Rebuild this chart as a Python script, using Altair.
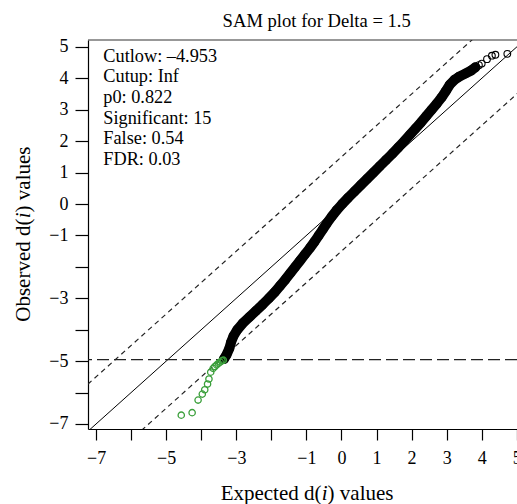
import altair as alt
import pandas as pd

TITLE = "SAM plot for Delta = 1.5"
X_TITLE = ["Expected d(", "i", ") values"]
Y_TITLE = ["Observed d(", "i", ") values"]
STATS = ["Cutlow: \u20134.953", "Cutup: Inf", "p0: 0.822", "Significant: 15",
         "False: 0.54", "FDR: 0.03"]

DELTA = 1.5
CUTLOW = -4.953

# dense cloud of non-significant genes (expected, observed)
band_exp = [-3.35, -3.28, -3.20, -3.15, -3.08, -2.97, -2.82, -2.63, -2.44, -2.25,
            -2.07, -1.90, -1.75, -1.60, -1.46, -1.32, -1.18, -1.04, -0.90, -0.77,
            -0.65, -0.53, -0.41, -0.28, -0.14, 0.02, 0.19, 0.37, 0.55, 0.73,
            0.91, 1.09, 1.27, 1.45, 1.62, 1.79, 1.95, 2.11, 2.27, 2.42,
            2.57, 2.72, 2.86, 2.98, 3.09, 3.22, 3.35, 3.53, 3.70, 3.82]
band_obs = [-4.93, -4.80, -4.60, -4.40, -4.20, -4.00, -3.80, -3.60, -3.40, -3.20,
            -3.00, -2.80, -2.60, -2.40, -2.20, -2.00, -1.80, -1.60, -1.40, -1.20,
            -1.00, -0.80, -0.60, -0.40, -0.20, 0.00, 0.20, 0.40, 0.60, 0.80,
            1.00, 1.20, 1.40, 1.60, 1.80, 2.00, 2.20, 2.40, 2.60, 2.80,
            3.00, 3.20, 3.40, 3.60, 3.80, 3.95, 4.05, 4.15, 4.25, 4.35]
# sparse upper tail
top_exp = [3.92, 4.00, 4.15, 4.29, 4.39, 4.73]
top_obs = [4.42, 4.47, 4.61, 4.72, 4.75, 4.78]
# significant genes (green)
sig_exp = [-4.57, -4.26, -4.09, -3.97, -3.90, -3.82, -3.78, -3.73, -3.66, -3.61,
           -3.56, -3.51, -3.46, -3.41, -3.37]
sig_obs = [-6.72, -6.64, -6.24, -6.05, -5.91, -5.73, -5.57, -5.35, -5.23, -5.17,
           -5.12, -5.07, -5.03, -4.99, -4.97]

TICKS = list(range(-7, 6))
HIDDEN = [-6, -4, -2]
XDOM = [-7.23, 5.006]
YDOM = [-7.16, 5.22]
LINE_X = [-8, 6]

W, H = 429, 389
FONT = "Liberation Serif"

hide_expr = "indexof([%s], datum.value) >= 0 ? '' : datum.label" % ",".join(str(v) for v in HIDDEN)

xs = alt.Scale(domain=XDOM, nice=False, zero=False)
ys = alt.Scale(domain=YDOM, nice=False, zero=False)

x_axis = alt.Axis(values=TICKS, labelExpr=hide_expr, title=None, grid=False,
                  tickSize=11, labelPadding=9, labelFont=FONT, labelFontSize=18,
                  labelColor="black", domainColor="black", tickColor="black",
                  domainWidth=1.2, tickWidth=1.2, labelFlush=False, labelOverlap=False,
                  labelBound=False)
y_axis = alt.Axis(values=TICKS, labelExpr=hide_expr, title=None, grid=False,
                  tickSize=13, labelPadding=7, labelFont=FONT, labelFontSize=18,
                  labelColor="black", domainColor="black", tickColor="black",
                  domainWidth=1.2, tickWidth=1.2, labelFlush=False, labelOverlap=False,
                  labelBound=False)


def X(f="x:Q"):
    return alt.X(f, scale=xs, axis=x_axis)


def Y(f="y:Q"):
    return alt.Y(f, scale=ys, axis=y_axis)


# reference lines y = x + c
ref_rows = []
for c, g in [(0, "solid"), (DELTA, "up"), (-DELTA, "down")]:
    for xv in LINE_X:
        ref_rows.append({"x": xv, "y": xv + c, "g": g})
ref = pd.DataFrame(ref_rows)

solid = alt.Chart(ref[ref.g == "solid"]).mark_line(color="black", strokeWidth=1, clip=True).encode(
    x=X(), y=Y())
dashed = alt.Chart(ref[ref.g != "solid"]).mark_line(color="#222222", strokeWidth=1.2,
                                                    strokeDash=[5, 4], clip=True).encode(
    x=X(), y=Y(), detail="g:N")

cut = alt.Chart(pd.DataFrame({"y": [CUTLOW]})).mark_rule(
    color="#222222", strokeWidth=1.4, strokeDash=[12, 5]).encode(y=Y())

band = pd.DataFrame({"x": band_exp, "y": band_obs})
band_line = alt.Chart(band).mark_line(color="black", strokeWidth=10, strokeCap="round",
                                      strokeJoin="round").encode(x=X(), y=Y())
band_pts = alt.Chart(band).mark_point(shape="circle", filled=False, size=60, strokeWidth=2,
                                      color="black", opacity=1).encode(x=X(), y=Y())
top_pts = alt.Chart(pd.DataFrame({"x": top_exp, "y": top_obs})).mark_point(
    shape="circle", filled=False, size=45, strokeWidth=1.1, color="black", opacity=1).encode(
    x=X(), y=Y())
sig_pts = alt.Chart(pd.DataFrame({"x": sig_exp, "y": sig_obs})).mark_point(
    shape="circle", filled=False, size=40, strokeWidth=1.3, color="#3a9f3a", opacity=1).encode(
    x=X(), y=Y())

frame_top = alt.Chart(pd.DataFrame({"a": [0]})).mark_rule(color="#333333", strokeWidth=1.2).encode(
    y=alt.value(0), x=alt.value(0), x2=alt.value(W))

one = pd.DataFrame({"a": [0]})
title_t = alt.Chart(one).mark_text(font=FONT, fontSize=18.6, align="center",
                                   baseline="alphabetic", color="black").encode(
    x=alt.value(228.7), y=alt.value(-13.3), text=alt.value(TITLE))
stats_t = alt.Chart(one).mark_text(font=FONT, fontSize=18.3, align="left", baseline="alphabetic",
                                   lineHeight=20.7, color="black").encode(
    x=alt.value(15.3), y=alt.value(21.7), text=alt.value(STATS))

# x-axis title pieces (italic i)
xt1 = alt.Chart(one).mark_text(font=FONT, fontSize=21, align="right", baseline="alphabetic",
                               color="black").encode(x=alt.value(233.5), y=alt.value(460),
                                                     text=alt.value(X_TITLE[0]))
xt2 = alt.Chart(one).mark_text(font=FONT, fontSize=21, fontStyle="italic", align="left",
                               baseline="alphabetic", color="black").encode(
    x=alt.value(233.8), y=alt.value(460), text=alt.value(X_TITLE[1]))
xt3 = alt.Chart(one).mark_text(font=FONT, fontSize=21, align="left", baseline="alphabetic",
                               color="black").encode(x=alt.value(239.6), y=alt.value(460),
                                                     text=alt.value(X_TITLE[2]))
# y-axis title pieces (rotated)
yt1 = alt.Chart(one).mark_text(font=FONT, fontSize=21, angle=270, align="right",
                               baseline="alphabetic", color="black").encode(
    x=alt.value(-58), y=alt.value(178.5), text=alt.value(Y_TITLE[0]))
yt2 = alt.Chart(one).mark_text(font=FONT, fontSize=21, angle=270, fontStyle="italic", align="left",
                               baseline="alphabetic", color="black").encode(
    x=alt.value(-58), y=alt.value(178.2), text=alt.value(Y_TITLE[1]))
yt3 = alt.Chart(one).mark_text(font=FONT, fontSize=21, angle=270, align="left",
                               baseline="alphabetic", color="black").encode(
    x=alt.value(-58), y=alt.value(172.4), text=alt.value(Y_TITLE[2]))

chart = alt.layer(
    solid, dashed, cut, band_line, band_pts, top_pts, sig_pts, frame_top,
    title_t, stats_t, xt1, xt2, xt3, yt1, yt2, yt3,
).properties(
    width=W, height=H,
    autosize=alt.AutoSizeParams(type="none"),
    padding={"left": 88, "top": 40, "right": 0, "bottom": 75},
    background="white",
).configure_view(stroke=None).configure_axis(labelOverlap=False, labelFlush=False)

chart.save("out.html", embed_options={"renderer": "svg", "actions": False})
